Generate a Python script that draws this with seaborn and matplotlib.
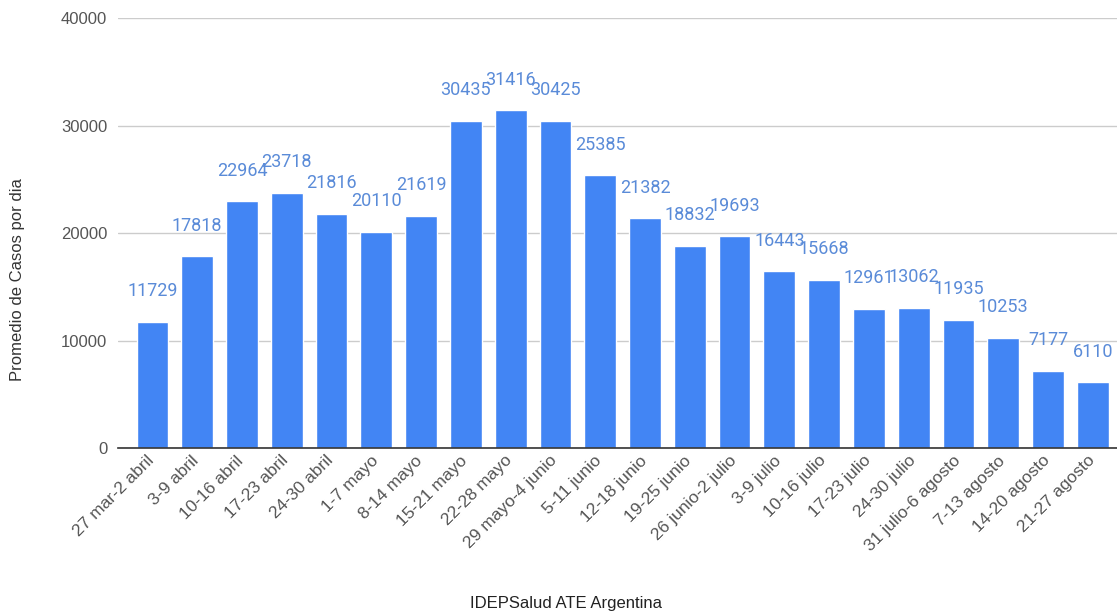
import pandas as pd
import matplotlib.pyplot as plt
import matplotlib.transforms as mtransforms
import seaborn as sns

# Datos: promedio de casos por dia, por semana
semanas = ["27 mar-2 abril", "3-9 abril", "10-16 abril", "17-23 abril", "24-30 abril",
           "1-7 mayo", "8-14 mayo", "15-21 mayo", "22-28 mayo", "29 mayo-4 junio",
           "5-11 junio", "12-18 junio", "19-25 junio", "26 junio-2 julio", "3-9 julio",
           "10-16 julio", "17-23 julio", "24-30 julio", "31 julio-6 agosto",
           "7-13 agosto", "14-20 agosto", "21-27 agosto"]
casos = [11729, 17818, 22964, 23718, 21816, 20110, 21619, 30435, 31416, 30425,
         25385, 21382, 18832, 19693, 16443, 15668, 12961, 13062, 11935, 10253,
         7177, 6110]
yticks = [0, 10000, 20000, 30000, 40000]

df = pd.DataFrame({"Semana": semanas, "Casos": casos})

sns.set_style("white")
plt.rcParams["font.family"] = ["Liberation Sans", "DejaVu Sans"]

fig = plt.figure(figsize=(11.17, 6.15), dpi=100)
ax = fig.add_axes([0.106, 0.2715, 0.894, 0.6992])

sns.barplot(x="Semana", y="Casos", data=df, color="#4285F4", saturation=1,
            width=0.71, ax=ax)

for i, v in enumerate(df["Casos"]):
    ax.annotate(str(v), (i, v), xytext=(0, 22), textcoords="offset points",
                ha="center", va="center", fontsize=13, color="#5a8bd8",
                family=["Roboto", "DejaVu Sans"])

ax.set_xlim(-0.76, 21.54)
ax.set_ylim(0, 40000)
ax.set_yticks(yticks)
ax.set_yticklabels([str(t) for t in yticks], fontsize=12, color="#555555")
ax.yaxis.grid(True, color="#cccccc", linewidth=1)
ax.set_axisbelow(True)
ax.tick_params(axis="both", length=0)
ax.tick_params(axis="y", pad=8)
# etiquetas del eje x rotadas, ligeramente corridas a la izquierda
desplazamiento = mtransforms.ScaledTranslation(-6 / 100, 0, fig.dpi_scale_trans)
for lbl in ax.get_xticklabels():
    lbl.set_rotation(45)
    lbl.set_ha("right")
    lbl.set_rotation_mode("anchor")
    lbl.set_fontsize(12.5)
    lbl.set_color("#555555")
    lbl.set_transform(lbl.get_transform() + desplazamiento)
for s in ["top", "right", "left"]:
    ax.spines[s].set_visible(False)
ax.spines["bottom"].set_color("#333333")
ax.spines["bottom"].set_linewidth(1.2)
ax.set_xlabel("")
ax.set_ylabel("")

fig.text(0.507, 0.018, "IDEPSalud ATE Argentina", ha="center", va="center",
         fontsize=12, color="#222222")
fig.text(0.016, 0.545, "Promedio de Casos por dia", ha="center", va="center",
         rotation=90, fontsize=12, color="#333333")

plt.savefig("out.png", dpi=100)
plt.close()
